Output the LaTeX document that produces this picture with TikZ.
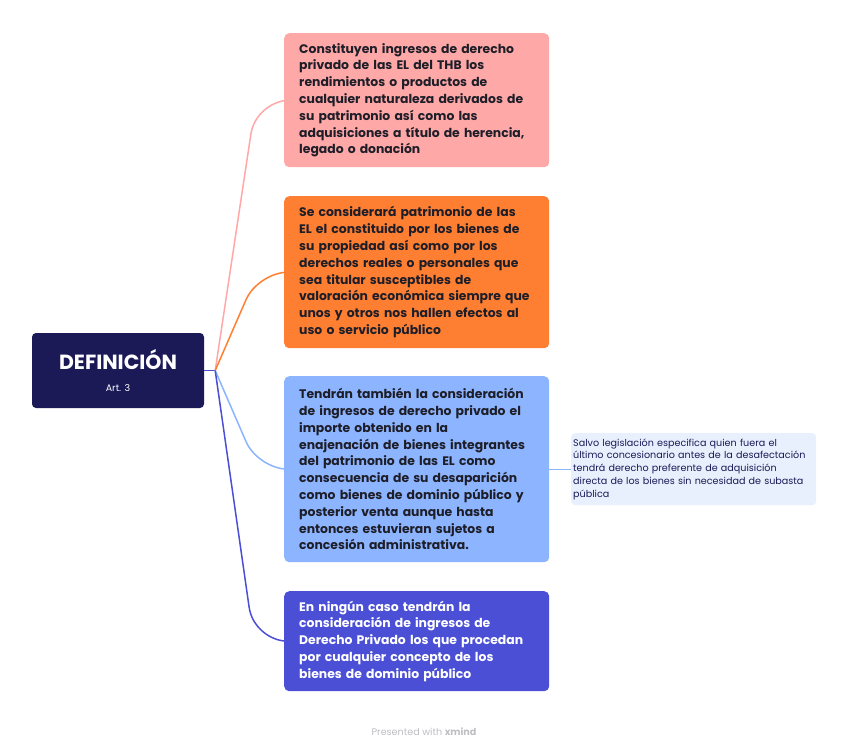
\documentclass[tikz,border=0pt]{standalone}
\usepackage{fontspec}
\setmainfont{Poppins}
\usetikzlibrary{calc}
\definecolor{rootfill}{RGB}{27,26,87}
\definecolor{cpink}{RGB}{255,168,168}
\definecolor{corange}{RGB}{255,127,50}
\definecolor{cblue}{RGB}{140,180,255}
\definecolor{cindigo}{RGB}{74,79,214}
\definecolor{notefill}{RGB}{233,240,253}
\definecolor{darktext}{RGB}{30,30,40}
\definecolor{footgray}{RGB}{190,190,195}
\begin{document}
\begin{tikzpicture}[x=1pt,y=-1pt,
  box/.style={rectangle, rounded corners=5pt, anchor=north west, minimum width=265pt,
    text width=235pt, inner xsep=15pt, inner ysep=0pt, align=left,
    font=\fontsize{12.4}{16.8}\selectfont\bfseries},
  rootbox/.style={rectangle, rounded corners=4pt, fill=rootfill, text=white,
    minimum width=172pt, minimum height=75pt, align=center, inner sep=0pt},
  notebox/.style={rectangle, rounded corners=4pt, fill=notefill, text=rootfill, anchor=north west,
    minimum width=245pt, minimum height=72pt, text width=241pt, inner xsep=2pt, inner ysep=0pt,
    align=left, font=\fontsize{9.6}{12.8}\selectfont},
  conn/.style={line width=1.5pt}]
\useasboundingbox (0,0) rectangle (848,753);
\fill[white] (0,0) rectangle (848,753);

\node[rootbox] (root) at (118,370.5) {\raisebox{0pt}{\fontsize{20.5}{24}\selectfont\bfseries DEFINICIÓN}\\[10pt]{\fontsize{9.5}{12}\selectfont Art. 3}};

\node[box, fill=cpink, text=darktext, minimum height=134pt] (b1) at (284,33) {Constituyen ingresos de derecho\\privado de las EL del THB los\\rendimientos o productos de\\cualquier naturaleza derivados de\\su patrimonio así como las\\adquisiciones a título de herencia,\\legado o donación};

\node[box, fill=corange, text=darktext, minimum height=152pt] (b2) at (284,196) {Se considerará patrimonio de las\\EL el constituido por los bienes de\\su propiedad así como por los\\derechos reales o personales que\\sea titular susceptibles de\\valoración económica siempre que\\unos y otros nos hallen efectos al\\uso o servicio público};

\node[box, fill=cblue, text=darktext, minimum height=186pt] (b3) at (284,376) {Tendrán también la consideración\\de ingresos de derecho privado el\\importe obtenido en la\\enajenación de bienes integrantes\\del patrimonio de las EL como\\consecuencia de su desaparición\\como bienes de dominio público y\\posterior venta aunque hasta\\entonces estuvieran sujetos a\\concesión administrativa.};

\node[box, fill=cindigo, text=white, minimum height=100pt] (b4) at (284,591) {En ningún caso tendrán la\\consideración de ingresos de\\Derecho Privado los que procedan\\por cualquier concepto de los\\bienes de dominio público};

\node[notebox] (note) at (571,433) {Salvo legislación especifica quien fuera el\\último concesionario antes de la desafectación\\tendrá derecho preferente de adquisición\\directa de los bienes sin necesidad de subasta\\pública};

\coordinate (hub) at ($(root.east)+(11,0)$);
\draw[conn, cindigo] (root.east) -- (hub);
\draw[conn, cpink, rounded corners=34pt] (hub) -- ($(b1.west)+(-28,0)$) -- (b1.west);
\draw[conn, corange, rounded corners=30pt] (hub) -- ($(b2.west)+(-26,0)$) -- (b2.west);
\draw[conn, cblue, rounded corners=30pt] (hub) -- ($(b3.west)+(-26,0)$) -- (b3.west);
\draw[conn, cindigo, rounded corners=34pt] (hub) -- ($(b4.west)+(-30,0)$) -- (b4.west);
\draw[line width=1pt, cblue] (b3.east) -- (note.west);

\node[text=footgray, font=\fontsize{9.6}{11}\selectfont] (foot) at (424,732) {Presented with \textbf{xmind}};
\end{tikzpicture}
\end{document}
